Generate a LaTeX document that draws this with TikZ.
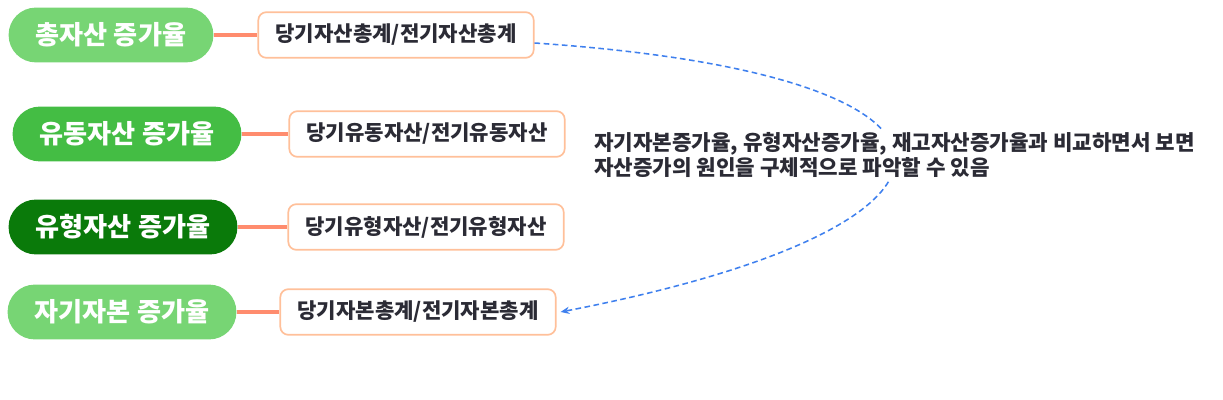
\documentclass[tikz,border=0pt]{standalone}
\usepackage{fontspec}
\setmainfont{Noto Sans CJK KR}
\definecolor{lightgreen}{HTML}{77D574}
\definecolor{midgreen}{HTML}{44BD44}
\definecolor{darkgreen}{HTML}{0A7A0A}
\definecolor{peach}{HTML}{FFC09A}
\definecolor{coral}{HTML}{FF8C6E}
\definecolor{linkblue}{HTML}{3F80EE}
\definecolor{darktext}{HTML}{2B2B35}
\usetikzlibrary{arrows.meta, positioning}

\begin{document}
\begin{tikzpicture}[x=0.025cm, y=-0.025cm,
  every node/.style={inner sep=0pt},
  ratio/.style={rounded corners=0.68cm, minimum height=1.37cm, inner xsep=0.68cm,
                text=white, font=\fontsize{18.6}{20}\selectfont\bfseries},
  formula/.style={draw=peach, line width=1.2pt, rounded corners=0.2cm, fill=white,
                  minimum height=1.14cm, inner xsep=0.43cm, text=darktext,
                  font=\fontsize{15}{17}\selectfont\bfseries},
  branch/.style={coral, line width=2.3pt},
  link/.style={linkblue, dash pattern=on 4pt off 2.5pt, line width=1.1pt,
               -{Stealth[length=2.2mm,width=1.8mm]}},
]
  \useasboundingbox (0,0) rectangle (1223,400);

  % Rates
  \node[ratio, fill=lightgreen] (total) at (111,35) {총자산 증가율};
  \node[ratio, fill=midgreen] (current) at (127,134) {유동자산 증가율};
  \node[ratio, fill=darkgreen] (tangible) at (123,227) {유형자산 증가율};
  \node[ratio, fill=lightgreen] (equity) at (122,312) {자기자본 증가율};

  % Formulas
  \node[formula] (totalf) at (396,35) {당기자산총계/전기자산총계};
  \node[formula] (currentf) at (427,134) {당기유동자산/전기유동자산};
  \node[formula] (tangiblef) at (426,227) {당기유형자산/전기유형자산};
  \node[formula] (equityf) at (418,312) {당기자본총계/전기자본총계};

  \draw[branch] (total.east) -- (totalf.west);
  \draw[branch] (current.east) -- (currentf.west);
  \draw[branch] (tangible.east) -- (tangiblef.west);
  \draw[branch] (equity.east) -- (equityf.west);

  % Comparison note
  \draw[link] ([yshift=-0.2cm]totalf.east) .. controls (1010,75) and (1010,225) .. ([xshift=0.1cm]equityf.east);
  \node[fill=white, inner sep=2pt, align=left, text=darktext,
        font=\fontsize{15.1}{17.7}\selectfont\bfseries, anchor=west] (note) at (591,155)
    {자기자본증가율, 유형자산증가율, 재고자산증가율과 비교하면서 보면\\
     자산증가의 원인을 구체적으로 파악할 수 있음};
\end{tikzpicture}
\end{document}
